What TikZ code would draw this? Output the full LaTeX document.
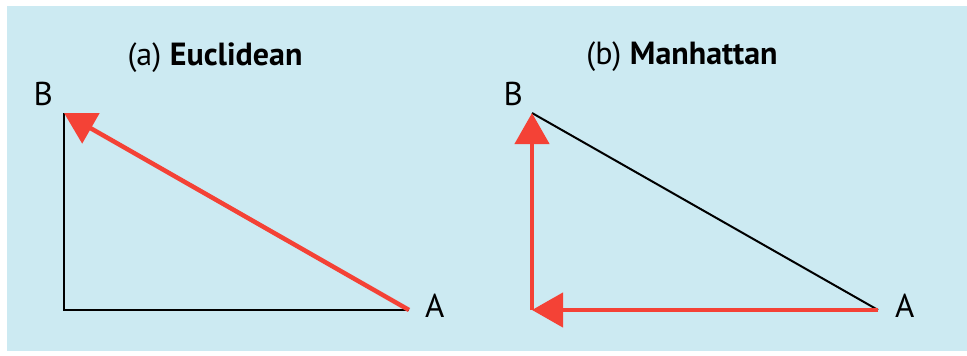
\documentclass[tikz,border=0pt]{standalone}
\usepackage{fontspec}
\setmainfont{PT Sans}
\usepackage{xcolor}
\definecolor{paneblue}{RGB}{204, 234, 242}
\definecolor{routered}{RGB}{244, 66, 54}
\usetikzlibrary{arrows.meta, positioning}

\begin{document}
\begin{tikzpicture}[x=1pt, y=-1pt,
        side/.style={draw=black, line width=2pt},
        route/.style={draw=routered, line width=4.5pt, -{Triangle[length=31pt, width=34pt]}},
        corner/.style={inner sep=0pt, font=\fontsize{33}{36}\selectfont},
        caption/.style={inner sep=0pt, font=\fontsize{32}{36}\selectfont}]
        
        \useasboundingbox (0,0) rectangle (967,356);
        \fill[paneblue] (7,6) rectangle (967,351);
        
        % (a) euclidean
        \coordinate (Ea) at (409,310);
        \coordinate (Eb) at (64,113);
        \coordinate (Ec) at (64,310);
        \node [caption, anchor=base] (eucl) at (215,65) {(a)\ \textbf{Euclidean}};
        \draw [side] (Eb) -- (Ec) -- (Ea);
        \path [route] (Ea) -- (Eb);
        \node [corner, base right=16pt of Ea, yshift=-7pt] (labEa) {A};
        \node [corner, base left=11pt of Eb, yshift=8pt] (labEb) {B};
        
        % (b) manhattan
        \coordinate (Ma) at (878,310);
        \coordinate (Mb) at (532,113);
        \coordinate (Mc) at (532,310);
        \node [caption, anchor=base] (manh) at (682,64) {(b)\ \textbf{Manhattan}};
        \draw [side] (Mb) -- (Ma);
        \path [route] (Mc) -- (Mb);
        \path [route] (Ma) -- (Mc);
        \node [corner, base right=17pt of Ma, yshift=-7pt] (labMa) {A};
        \node [corner, base left=9pt of Mb, yshift=8pt] (labMb) {B};
    \end{tikzpicture}
\end{document}
